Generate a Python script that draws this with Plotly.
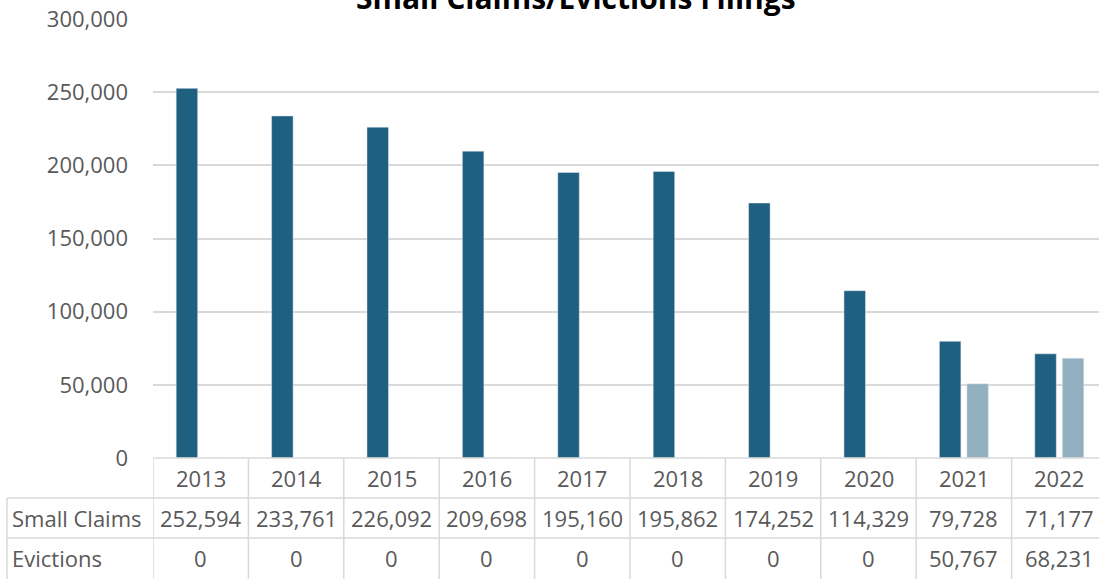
"""Small claims / evictions filings with data table"""

import plotly.graph_objects as go

YEARS = ["2013", "2014", "2015", "2016", "2017", "2018", "2019", "2020", "2021", "2022"]
SMALL_CLAIMS = [252594, 233761, 226092, 209698, 195160, 195862, 174252, 114329, 79728, 71177]
EVICTIONS = [0, 0, 0, 0, 0, 0, 0, 0, 50767, 68231]
ROW_LABELS = ["Small Claims", "Evictions"]

DARK = "#1F5F7F"
LIGHT = "#93B0C1"
GRID = "#D9D9D9"
TEXT = "#595959"
FONT = "Open Sans"

W, H = 1099, 579
M_L, M_T, M_B = 153, 19, 121
PLOT_H = H - M_T - M_B
PLOT_W = W - M_L
ROW_H = 40


def py(pixel_y: float) -> float:
    """pixel y (from top of figure) -> paper y"""
    return (H - M_B - pixel_y) / PLOT_H


def px(pixel_x: float) -> float:
    """pixel x -> paper x"""
    return (pixel_x - M_L) / PLOT_W


fig = go.Figure()
fig.add_trace(go.Bar(x=list(range(len(YEARS))), y=SMALL_CLAIMS, name=ROW_LABELS[0],
                     marker_color=DARK))
fig.add_trace(go.Bar(x=list(range(len(YEARS))), y=EVICTIONS, name=ROW_LABELS[1],
                     marker_color=LIGHT))

# visible categories: plot area is cut at the right edge of the picture
cat_w = 95.4
x_end = -0.5 + PLOT_W / cat_w

table_top = H - M_B
shapes = []
# vertical cell borders on category boundaries
for i in range(len(YEARS) + 1):
    shapes.append(dict(type="line", xref="x", yref="paper", x0=i - 0.5, x1=i - 0.5,
                       y0=0, y1=py(H + 5), line=dict(color=GRID, width=1.5)))
# left border of row-label column
shapes.append(dict(type="line", xref="paper", yref="paper", x0=px(7), x1=px(7),
                   y0=py(table_top + ROW_H), y1=py(H + 5), line=dict(color=GRID, width=1.5)))
# horizontal borders
shapes.append(dict(type="line", xref="paper", yref="paper", x0=0, x1=1.05,
                   y0=0, y1=0, line=dict(color=GRID, width=1.5)))
for r in (1, 2):
    yy = py(table_top + r * ROW_H)
    shapes.append(dict(type="line", xref="paper", yref="paper", x0=px(7), x1=1.05,
                       y0=yy, y1=yy, line=dict(color=GRID, width=1.5)))

annotations = []
font = dict(family=FONT, size=22, color=TEXT)
rows = [YEARS, [f"{v:,}" for v in SMALL_CLAIMS], [f"{v:,}" for v in EVICTIONS]]
for r, row in enumerate(rows):
    yy = py(table_top + (r + 0.5) * ROW_H)
    for i, txt in enumerate(row):
        annotations.append(dict(text=txt, xref="x", yref="paper", x=i, y=yy,
                                xanchor="center", yanchor="middle", showarrow=False,
                                font=font))
    if r > 0:
        annotations.append(dict(text=ROW_LABELS[r - 1], xref="paper", yref="paper",
                                x=px(10), y=yy, xanchor="left", yanchor="middle",
                                showarrow=False, font=font))

# title, cut off by the top edge as in the source picture
annotations.append(dict(text="<b>Small Claims/Evictions Filings</b>", xref="paper",
                        yref="paper", x=px(576), y=py(-2), xanchor="center",
                        yanchor="middle", showarrow=False,
                        font=dict(family=FONT, size=30, color="#000000")))

fig.update_layout(
    width=W,
    height=H,
    margin=dict(l=M_L, r=0, t=M_T, b=M_B, pad=0),
    paper_bgcolor="white",
    plot_bgcolor="white",
    showlegend=False,
    barmode="group",
    bargap=0.423,
    bargroupgap=0.218,
    xaxis=dict(range=[-0.5, x_end], showticklabels=False, showgrid=False, zeroline=False,
               ticks=""),
    yaxis=dict(range=[0, 300000], dtick=50000, tickformat=",", gridcolor=GRID, gridwidth=1.5,
               zeroline=False, ticks="", ticklabelstandoff=24,
               tickfont=dict(family=FONT, size=22, color=TEXT)),
    shapes=shapes,
    annotations=annotations,
)

fig.write_html("out.html", config={"displayModeBar": False},
               post_script="document.body.style.margin = '0';")
